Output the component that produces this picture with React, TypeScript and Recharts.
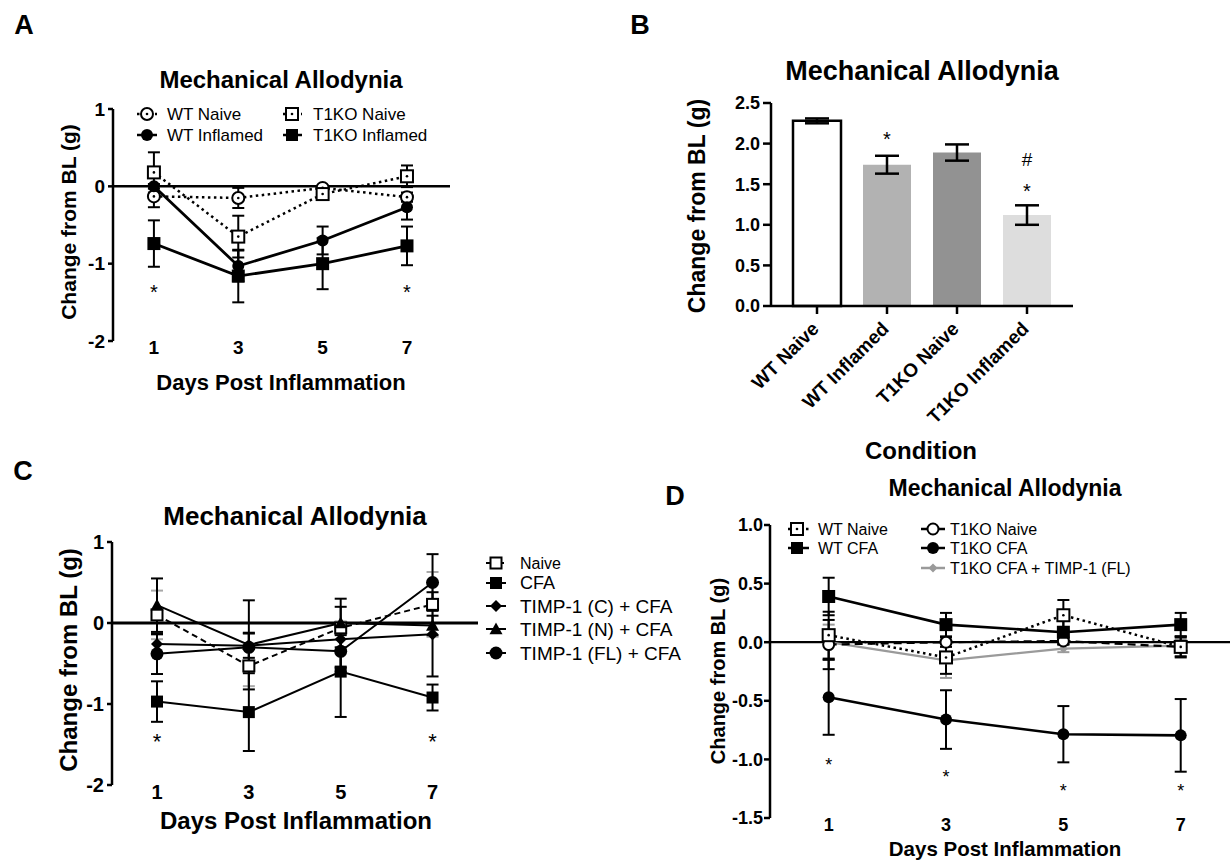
import React from 'react';
import { LineChart, Line, XAxis, YAxis, ReferenceLine, ReferenceDot, ErrorBar, BarChart, Bar, Cell } from 'recharts';

const FONT = '"Liberation Sans", Arial, Helvetica, sans-serif';

// ---------- Panel A ----------
const daysA = [1, 3, 5, 7];
const aWtNaive = [-0.13, -0.15, -0.02, -0.14];
const aWtNaiveErr = [0.14, 0.13, 0.03, 0.06];
const aT1koNaive = [0.18, -0.65, -0.1, 0.13];
const aT1koNaiveErr = [0.26, 0.27, 0.03, 0.14];
const aWtInfl = [0.0, -1.03, -0.7, -0.27];
const aWtInflErr = [0.03, 0.2, 0.18, 0.16];
const aT1koInfl = [-0.74, -1.16, -1.0, -0.77];
const aT1koInflErr = [0.3, 0.34, 0.33, 0.25];
const aStarDays = [1, 7];
const aStarY = -1.31;
const aYTicks = [-2, -1, 0, 1];

// ---------- Panel B ----------
const bCats = ['WT Naive', 'WT Inflamed', 'T1KO Naive', 'T1KO Inflamed'];
const bVals = [2.28, 1.74, 1.89, 1.12];
const bErr = [0.03, 0.11, 0.1, 0.12];
const bYTicks = [0, 0.5, 1, 1.5, 2, 2.5];
const bFills = ['#ffffff', '#b2b2b2', '#929292', '#dddddd'];

// ---------- Panel C ----------
const daysC = [1, 3, 5, 7];
const cNaive = [0.1, -0.53, -0.06, 0.23];
const cNaiveErr = [0.3, 0.25, 0.08, 0.4];
const cCfa = [-0.97, -1.1, -0.6, -0.92];
const cCfaErr = [0.25, 0.48, 0.56, 0.16];
const cTimpC = [-0.26, -0.28, -0.2, -0.14];
const cTimpCErr = [0.12, 0.15, 0.4, 0.52];
const cTimpN = [0.22, -0.27, 0.0, -0.03];
const cTimpNErr = [0.33, 0.55, 0.3, 0.12];
const cTimpFL = [-0.38, -0.3, -0.35, 0.5];
const cTimpFLErr = [0.25, 0.18, 0.2, 0.35];
const cStarDays = [1, 7];
const cStarY = -1.4;
const cYTicks = [-2, -1, 0, 1];

// ---------- Panel D ----------
const daysD = [1, 3, 5, 7];
const dWtNaive = [0.06, -0.13, 0.23, -0.04];
const dWtNaiveErr = [0.2, 0.14, 0.13, 0.08];
const dWtCfa = [0.39, 0.15, 0.085, 0.15];
const dWtCfaErr = [0.16, 0.1, 0.1, 0.1];
const dT1koNaive = [-0.02, 0.0, 0.01, -0.04];
const dT1koNaiveErr = [0.21, 0.04, 0.03, 0.09];
const dT1koCfa = [-0.47, -0.66, -0.785, -0.795];
const dT1koCfaErr = [0.32, 0.25, 0.24, 0.31];
const dT1koTimp = [0.0, -0.155, -0.055, -0.03];
const dT1koTimpErr = [0.15, 0.15, 0.03, 0.05];
const dStarY = [-1.01, -1.11, -1.23, -1.23];
const dYTicks = [-1.5, -1.0, -0.5, 0, 0.5, 1.0];

const dataA = daysA.map((d, i) => ({
  day: d,
  wtN: aWtNaive[i], wtNe: aWtNaiveErr[i],
  koN: aT1koNaive[i], koNe: aT1koNaiveErr[i],
  wtI: aWtInfl[i], wtIe: aWtInflErr[i],
  koI: aT1koInfl[i], koIe: aT1koInflErr[i],
}));
const dataB = bCats.map((c, i) => ({ name: c, v: bVals[i], e: bErr[i] }));
const dataC = daysC.map((d, i) => ({
  day: d,
  nv: cNaive[i], nve: cNaiveErr[i],
  cfa: cCfa[i], cfae: cCfaErr[i],
  tc: cTimpC[i], tce: cTimpCErr[i],
  tn: cTimpN[i], tne: cTimpNErr[i],
  tf: cTimpFL[i], tfe: cTimpFLErr[i],
}));
const dataD = daysD.map((d, i) => ({
  day: d,
  wn: dWtNaive[i], wne: dWtNaiveErr[i],
  wc: dWtCfa[i], wce: dWtCfaErr[i],
  kn: dT1koNaive[i], kne: dT1koNaiveErr[i],
  kc: dT1koCfa[i], kce: dT1koCfaErr[i],
  kt: dT1koTimp[i], kte: dT1koTimpErr[i],
}));

function mk(kind: string, cx: number, cy: number, s: number, color = '#000', key?: any) {
  if (cx == null || cy == null || isNaN(cx) || isNaN(cy)) return <g key={key} />;
  const sw = 2;
  switch (kind) {
    case 'openCircleDot':
      return (
        <g key={key}>
          <circle cx={cx} cy={cy} r={s} fill="#fff" stroke={color} strokeWidth={sw} />
          <circle cx={cx} cy={cy} r={1.3} fill={color} />
        </g>
      );
    case 'openCircle':
      return <circle key={key} cx={cx} cy={cy} r={s} fill="#fff" stroke={color} strokeWidth={sw} />;
    case 'openSquareDot':
      return (
        <g key={key}>
          <rect x={cx - s} y={cy - s} width={2 * s} height={2 * s} fill="#fff" stroke={color} strokeWidth={sw} />
          <circle cx={cx} cy={cy} r={1.3} fill={color} />
        </g>
      );
    case 'openSquare':
      return <rect key={key} x={cx - s} y={cy - s} width={2 * s} height={2 * s} fill="#fff" stroke={color} strokeWidth={sw} />;
    case 'circle':
      return <circle key={key} cx={cx} cy={cy} r={s} fill={color} />;
    case 'square':
      return <rect key={key} x={cx - s} y={cy - s} width={2 * s} height={2 * s} fill={color} />;
    case 'diamond':
      return <polygon key={key} points={`${cx},${cy - s} ${cx + s},${cy} ${cx},${cy + s} ${cx - s},${cy}`} fill={color} />;
    case 'triangle':
      return <polygon key={key} points={`${cx},${cy - s} ${cx + s},${cy + s * 0.8} ${cx - s},${cy + s * 0.8}`} fill={color} />;
    default:
      return <g key={key} />;
  }
}
const dotOf = (kind: string, s: number, color = '#000') => (p: any) => mk(kind, p.cx, p.cy, s, color, p.index);

const Star = (fs: number, ch = '*', lift = 0.57) => (p: any) => (
  <text x={p.cx} y={p.cy + fs * lift} textAnchor="middle" fontSize={fs} fontFamily={FONT} fill="#000">{ch}</text>
);

const axisStyle = (w: number) => ({ stroke: '#000', strokeWidth: w });
const tickStyle = (fs: number) => ({ fill: '#000', fontSize: fs, fontWeight: 700, fontFamily: FONT });

const RotTick = (p: any) => {
  const { x, y, payload } = p;
  const px = x + 3;
  const py = y + 14;
  return (
    <text x={px} y={py} transform={`rotate(-45, ${px}, ${py})`} textAnchor="end" fontSize={19} fontWeight={700} fontFamily={FONT} fill="#000">
      {payload.value}
    </text>
  );
};

function T({ x, y, fs, children, bold = true, rot = 0, anchor = 'middle' }: any) {
  return (
    <text
      x={x}
      y={y}
      fontSize={fs}
      fontWeight={bold ? 700 : 400}
      fontFamily={FONT}
      textAnchor={anchor}
      dominantBaseline="central"
      fill="#000"
      transform={rot ? `rotate(${rot}, ${x}, ${y})` : undefined}
    >
      {children}
    </text>
  );
}

function LegendRow({ x1, x2, mx, tx, y, kind, s, dash, color = '#000', label, fs, sw = 2.5 }: any) {
  return (
    <g>
      <line x1={x1} x2={x2} y1={y} y2={y} stroke={color} strokeWidth={sw} strokeDasharray={dash} />
      {mk(kind, mx, y, s, color)}
      <T x={tx} y={y} fs={fs} bold={false} anchor="start">{label}</T>
    </g>
  );
}

export default function App() {
  return (
    <div style={{ position: 'absolute', left: 0, top: 0, width: 1230, height: 861, background: '#fff', overflow: 'hidden', fontFamily: FONT }}>
      {/* Panel A */}
      <div style={{ position: 'absolute', left: 0, top: 0 }}>
        <LineChart width={480} height={380} data={dataA} margin={{ top: 109, right: 30, bottom: 9, left: 53 }}>
          <XAxis dataKey="day" type="number" domain={[0.03, 8.02]} ticks={daysA} allowDataOverflow axisLine={false} tickLine={false} tickSize={0} tickMargin={0} height={30} tick={tickStyle(19)} />
          <YAxis type="number" domain={[-2, 1]} ticks={aYTicks} allowDataOverflow width={60} tickSize={5} tickMargin={3} axisLine={axisStyle(2.5)} tickLine={axisStyle(2.5)} tick={tickStyle(19)} />
          <ReferenceLine y={0} stroke="#000" strokeWidth={2.5} />
          <Line dataKey="wtN" stroke="#000" strokeWidth={2.5} strokeDasharray="2.5 3.5" isAnimationActive={false} activeDot={false} dot={dotOf('openCircleDot', 6)}>
            <ErrorBar dataKey="wtNe" width={6} strokeWidth={2} stroke="#000" direction="y" />
          </Line>
          <Line dataKey="koN" stroke="#000" strokeWidth={2.5} strokeDasharray="2.5 3.5" isAnimationActive={false} activeDot={false} dot={dotOf('openSquareDot', 6)}>
            <ErrorBar dataKey="koNe" width={6} strokeWidth={2} stroke="#000" direction="y" />
          </Line>
          <Line dataKey="wtI" stroke="#000" strokeWidth={2.8} isAnimationActive={false} activeDot={false} dot={dotOf('circle', 6)}>
            <ErrorBar dataKey="wtIe" width={6} strokeWidth={2} stroke="#000" direction="y" />
          </Line>
          <Line dataKey="koI" stroke="#000" strokeWidth={2.8} isAnimationActive={false} activeDot={false} dot={dotOf('square', 6.5)}>
            <ErrorBar dataKey="koIe" width={6} strokeWidth={2} stroke="#000" direction="y" />
          </Line>
          {aStarDays.map((d) => (
            <ReferenceDot key={`as${d}`} x={d} y={aStarY} r={1} shape={Star(20)} />
          ))}
        </LineChart>
      </div>

      {/* Panel B */}
      <div style={{ position: 'absolute', left: 600, top: 0 }}>
        <BarChart width={480} height={470} data={dataB} margin={{ top: 103, right: 7, bottom: 124, left: 111 }}>
          <XAxis dataKey="name" type="category" interval={0} padding={{ left: 11, right: 11 }} height={40} tickSize={8} tickMargin={2} axisLine={axisStyle(2.5)} tickLine={axisStyle(2.5)} tick={<RotTick />} />
          <YAxis type="number" domain={[0, 2.5]} ticks={bYTicks} tickFormatter={(v: number) => v.toFixed(1)} width={60} tickSize={8} tickMargin={3} axisLine={axisStyle(2.5)} tickLine={axisStyle(2.5)} tick={tickStyle(18)} />
          <Bar dataKey="v" barSize={48} isAnimationActive={false}>
            {dataB.map((d, i) => (
              <Cell key={d.name} fill={bFills[i]} stroke={i === 0 ? '#000' : 'none'} strokeWidth={i === 0 ? 2.5 : 0} />
            ))}
            <ErrorBar dataKey="e" width={12} strokeWidth={2.5} stroke="#000" direction="y" />
          </Bar>
          <ReferenceDot x="WT Inflamed" y={2.106} r={1} shape={Star(20)} />
          <ReferenceDot x="T1KO Inflamed" y={1.81} r={1} shape={Star(19, '#', 0.36)} />
          <ReferenceDot x="T1KO Inflamed" y={1.466} r={1} shape={Star(20)} />
        </BarChart>
      </div>

      {/* Panel C */}
      <div style={{ position: 'absolute', left: 0, top: 480 }}>
        <LineChart width={600} height={380} data={dataC} margin={{ top: 62, right: 122, bottom: 45, left: 52 }}>
          <XAxis dataKey="day" type="number" domain={[0.02, 7.99]} ticks={daysC} allowDataOverflow axisLine={false} tickLine={false} tickSize={0} tickMargin={0} height={30} tick={tickStyle(20)} />
          <YAxis type="number" domain={[-2, 1]} ticks={cYTicks} allowDataOverflow width={60} tickSize={5} tickMargin={3} axisLine={axisStyle(2.5)} tickLine={axisStyle(2.5)} tick={tickStyle(20)} />
          <ReferenceLine y={0} stroke="#000" strokeWidth={2.8} />
          <Line dataKey="nv" stroke="#000" strokeWidth={2} strokeDasharray="6 4" isAnimationActive={false} activeDot={false} dot={dotOf('openSquare', 5.5)}>
            <ErrorBar dataKey="nve" width={6} strokeWidth={2} stroke="#a8a8a8" direction="y" />
          </Line>
          <Line dataKey="cfa" stroke="#000" strokeWidth={2} isAnimationActive={false} activeDot={false} dot={dotOf('square', 6)}>
            <ErrorBar dataKey="cfae" width={6} strokeWidth={2} stroke="#000" direction="y" />
          </Line>
          <Line dataKey="tc" stroke="#000" strokeWidth={2} isAnimationActive={false} activeDot={false} dot={dotOf('diamond', 6)}>
            <ErrorBar dataKey="tce" width={6} strokeWidth={2} stroke="#000" direction="y" />
          </Line>
          <Line dataKey="tn" stroke="#000" strokeWidth={2} isAnimationActive={false} activeDot={false} dot={dotOf('triangle', 6.5)}>
            <ErrorBar dataKey="tne" width={6} strokeWidth={2} stroke="#000" direction="y" />
          </Line>
          <Line dataKey="tf" stroke="#000" strokeWidth={2} isAnimationActive={false} activeDot={false} dot={dotOf('circle', 6.5)}>
            <ErrorBar dataKey="tfe" width={6} strokeWidth={2} stroke="#000" direction="y" />
          </Line>
          {cStarDays.map((d) => (
            <ReferenceDot key={`cs${d}`} x={d} y={cStarY} r={1} shape={Star(22)} />
          ))}
        </LineChart>
      </div>

      {/* Panel D */}
      <div style={{ position: 'absolute', left: 690, top: 480 }}>
        <LineChart width={540} height={381} data={dataD} margin={{ top: 45, right: 0, bottom: 18, left: 10 }}>
          <XAxis dataKey="day" type="number" domain={[0, 7.84]} ticks={daysD} allowDataOverflow axisLine={false} tickLine={false} tickSize={0} tickMargin={0} height={25} tick={tickStyle(18)} />
          <YAxis type="number" domain={[-1.5, 1.0]} ticks={dYTicks} tickFormatter={(v: number) => v.toFixed(1)} allowDataOverflow width={70} tickSize={6} tickMargin={1} axisLine={axisStyle(2.5)} tickLine={axisStyle(2.5)} tick={tickStyle(18)} />
          <ReferenceLine y={0} stroke="#000" strokeWidth={2.2} />
          <Line dataKey="kt" stroke="#9a9a9a" strokeWidth={2.2} isAnimationActive={false} activeDot={false} dot={dotOf('diamond', 4.5, '#9a9a9a')}>
            <ErrorBar dataKey="kte" width={6} strokeWidth={2} stroke="#9a9a9a" direction="y" />
          </Line>
          <Line dataKey="kn" stroke="#000" strokeWidth={2.2} strokeDasharray="8 5" isAnimationActive={false} activeDot={false} dot={dotOf('openCircle', 5.5)}>
            <ErrorBar dataKey="kne" width={6} strokeWidth={2} stroke="#000" direction="y" />
          </Line>
          <Line dataKey="wn" stroke="#000" strokeWidth={2.5} strokeDasharray="2.5 3.5" isAnimationActive={false} activeDot={false} dot={dotOf('openSquareDot', 6)}>
            <ErrorBar dataKey="wne" width={6} strokeWidth={2} stroke="#000" direction="y" />
          </Line>
          <Line dataKey="wc" stroke="#000" strokeWidth={2.6} isAnimationActive={false} activeDot={false} dot={dotOf('square', 6.5)}>
            <ErrorBar dataKey="wce" width={6} strokeWidth={2} stroke="#000" direction="y" />
          </Line>
          <Line dataKey="kc" stroke="#000" strokeWidth={2.6} isAnimationActive={false} activeDot={false} dot={dotOf('circle', 6)}>
            <ErrorBar dataKey="kce" width={6} strokeWidth={2} stroke="#000" direction="y" />
          </Line>
          {daysD.map((d, i) => (
            <ReferenceDot key={`ds${d}`} x={d} y={dStarY[i]} r={1} shape={Star(18)} />
          ))}
        </LineChart>
      </div>

      {/* Overlay: titles, labels, legends */}
      <svg width={1230} height={861} style={{ position: 'absolute', left: 0, top: 0, pointerEvents: 'none' }}>
        {/* Panel letters */}
        <T x={24} y={25} fs={27}>A</T>
        <T x={640} y={25} fs={27}>B</T>
        <T x={23} y={471} fs={27}>C</T>
        <T x={675} y={496} fs={27}>D</T>

        {/* A */}
        <T x={281} y={79} fs={24}>Mechanical Allodynia</T>
        <T x={68} y={222} fs={21} rot={-90}>Change from BL (g)</T>
        <T x={281} y={382} fs={22}>Days Post Inflammation</T>
        <LegendRow x1={137} x2={157} mx={147} tx={167} y={114} kind="openCircleDot" s={6} dash="2.5 3.5" label="WT Naive" fs={17} />
        <LegendRow x1={137} x2={157} mx={147} tx={167} y={135} kind="circle" s={6} label="WT Inflamed" fs={17} />
        <LegendRow x1={283} x2={302} mx={292} tx={313} y={114} kind="openSquareDot" s={6} dash="2.5 3.5" label="T1KO Naive" fs={17} />
        <LegendRow x1={283} x2={302} mx={292} tx={313} y={135} kind="square" s={6} label="T1KO Inflamed" fs={17} />

        {/* B */}
        <T x={922} y={71} fs={27}>Mechanical Allodynia</T>
        <T x={697} y={206} fs={23} rot={-90}>Change from BL (g)</T>
        <T x={921} y={450} fs={24}>Condition</T>

        {/* C */}
        <T x={295} y={516} fs={26}>Mechanical Allodynia</T>
        <T x={68} y={660} fs={24} rot={-90}>Change from BL (g)</T>
        <T x={296} y={820} fs={24}>Days Post Inflammation</T>
        <LegendRow x1={486} x2={506} mx={496} tx={520} y={563} kind="openSquare" s={5.5} dash="4 3" label="Naive" fs={16} sw={2} />
        <LegendRow x1={486} x2={506} mx={496} tx={520} y={583} kind="square" s={6} label="CFA" fs={18} sw={2} />
        <LegendRow x1={486} x2={506} mx={496} tx={520} y={606} kind="diamond" s={6} label="TIMP-1 (C) + CFA" fs={19} sw={2} />
        <LegendRow x1={486} x2={506} mx={496} tx={520} y={629} kind="triangle" s={6.5} label="TIMP-1 (N) + CFA" fs={19} sw={2} />
        <LegendRow x1={486} x2={506} mx={496} tx={520} y={653} kind="circle" s={6.5} label="TIMP-1 (FL) + CFA" fs={19} sw={2} />

        {/* D */}
        <T x={1005} y={488} fs={23}>Mechanical Allodynia</T>
        <T x={718} y={671} fs={20} rot={-90}>Change from BL (g)</T>
        <T x={1005} y={848} fs={20.5}>Days Post Inflammation</T>
        <LegendRow x1={788} x2={809} mx={797} tx={818} y={529} kind="openSquareDot" s={6} dash="2.5 3.5" label="WT Naive" fs={16} />
        <LegendRow x1={788} x2={809} mx={797} tx={818} y={548} kind="square" s={6} label="WT CFA" fs={16} />
        <LegendRow x1={921} x2={945} mx={933} tx={950} y={529} kind="openCircle" s={5.5} label="T1KO Naive" fs={16} />
        <LegendRow x1={921} x2={945} mx={933} tx={950} y={548} kind="circle" s={6} label="T1KO CFA" fs={16} />
        <LegendRow x1={921} x2={945} mx={933} tx={950} y={568} kind="diamond" s={4.5} color="#9a9a9a" label="T1KO CFA + TIMP-1 (FL)" fs={16} />
      </svg>
    </div>
  );
}
